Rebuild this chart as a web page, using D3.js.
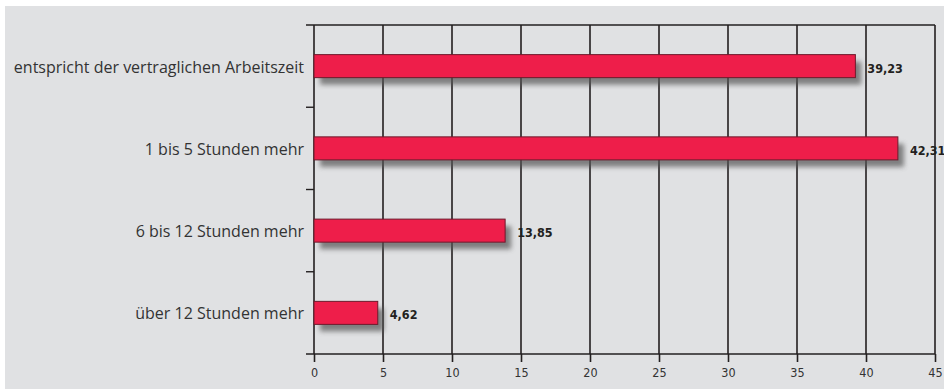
<!DOCTYPE html>
<html>
<head>
<meta charset="utf-8">
<script src="https://cdn.jsdelivr.net/npm/d3@7"></script>
<style>
  body { margin: 0; background: #fff; }
  svg { display: block; }
</style>
</head>
<body>
<div id="chart"></div>
<script>
// data
let categories = ["entspricht der vertraglichen Arbeitszeit", "1 bis 5 Stunden mehr", "6 bis 12 Stunden mehr", "über 12 Stunden mehr"];
let values = [39.23, 42.31, 13.85, 4.62];
let xTicks = [0, 5, 10, 15, 20, 25, 30, 35, 40, 45];

let svgWidth = 944;
let svgHeight = 389;

let margin = {top: 25, right: 9, bottom: 35, left: 314};
let width = svgWidth - margin.left - margin.right;
let height = svgHeight - margin.top - margin.bottom;

let svg = d3.select("#chart")
  .append("svg")
  .attr("width", svgWidth)
  .attr("height", svgHeight);

// grey panel
svg.append("rect")
  .attr("x", 5).attr("y", 6)
  .attr("width", svgWidth - 5).attr("height", svgHeight - 6)
  .attr("fill", "#e0e1e3");

let defs = svg.append("defs");
defs.append("filter")
  .attr("id", "shade")
  .attr("x", "-20%").attr("y", "-50%").attr("width", "140%").attr("height", "200%")
  .append("feGaussianBlur").attr("stdDeviation", 2.5);

let chartGroup = svg.append("g")
  .attr("transform", `translate(${margin.left}, ${margin.top})`);

let xScale = d3.scaleLinear().domain([0, 45]).range([0, width]);
let yScale = d3.scaleBand().domain(categories).range([0, height]).paddingInner(0.72).paddingOuter(0.36);
let band = d3.scaleBand().domain(categories).range([0, height]);

// vertical grid lines
chartGroup.selectAll(".grid")
  .data(xTicks)
  .enter().append("line")
  .attr("x1", d => xScale(d)).attr("x2", d => xScale(d))
  .attr("y1", 0).attr("y2", height)
  .attr("stroke", "#231f20")
  .attr("stroke-width", 1.6);

// top line
chartGroup.append("line")
  .attr("x1", -8).attr("x2", width)
  .attr("y1", 0).attr("y2", 0)
  .attr("stroke", "#231f20").attr("stroke-width", 1.6);

// bottom axis
let bottomAxis = d3.axisBottom(xScale).tickValues(xTicks).tickSize(8).tickPadding(6);
let xAxisG = chartGroup.append("g")
  .attr("transform", `translate(0, ${height})`)
  .call(bottomAxis);
xAxisG.select(".domain").remove();
xAxisG.append("line")
  .attr("x1", -8).attr("x2", width).attr("y1", 0).attr("y2", 0)
  .attr("stroke", "#231f20").attr("stroke-width", 1.6);
xAxisG.selectAll(".tick line").attr("stroke", "#231f20").attr("stroke-width", 1.6);
xAxisG.selectAll(".tick text")
  .attr("fill", "#333")
  .style("font-family", "'DejaVu Sans Condensed', 'Open Sans', sans-serif")
  .style("font-size", "12.5px");

// category separator ticks on left
chartGroup.selectAll(".sep")
  .data(categories.slice(1))
  .enter().append("line")
  .attr("x1", -8).attr("x2", 0)
  .attr("y1", d => band(d)).attr("y2", d => band(d))
  .attr("stroke", "#231f20").attr("stroke-width", 1.4);

// category labels
chartGroup.selectAll(".cat")
  .data(categories)
  .enter().append("text")
  .attr("x", -10)
  .attr("y", d => yScale(d) + yScale.bandwidth() / 2 + 1)
  .attr("dy", "0.35em")
  .attr("text-anchor", "end")
  .attr("fill", "#333")
  .style("font-family", "'Open Sans', sans-serif")
  .style("font-size", "16px")
  .text(d => d);

// bar shadows
chartGroup.selectAll(".shadow")
  .data(values)
  .enter().append("rect")
  .attr("x", 6)
  .attr("y", (d, i) => yScale(categories[i]) + 7)
  .attr("width", d => xScale(d))
  .attr("height", yScale.bandwidth())
  .attr("fill", "#555")
  .attr("opacity", 0.7)
  .attr("filter", "url(#shade)");

// bars
chartGroup.selectAll(".bar")
  .data(values)
  .enter().append("rect")
  .attr("x", 0)
  .attr("y", (d, i) => yScale(categories[i]))
  .attr("width", d => xScale(d))
  .attr("height", yScale.bandwidth())
  .attr("fill", "#ee1e4a")
  .attr("stroke", "#6e1a2c")
  .attr("stroke-width", 1);

// value labels
chartGroup.selectAll(".val")
  .data(values)
  .enter().append("text")
  .attr("x", d => xScale(d) + 12)
  .attr("y", (d, i) => yScale(categories[i]) + yScale.bandwidth() / 2 + 2)
  .attr("dy", "0.35em")
  .attr("fill", "#231f20")
  .style("font-family", "'DejaVu Sans Condensed', sans-serif")
  .style("font-weight", "bold")
  .style("font-size", "12.5px")
  .text(d => d.toFixed(2).replace(".", ","));
</script>
</body>
</html>
